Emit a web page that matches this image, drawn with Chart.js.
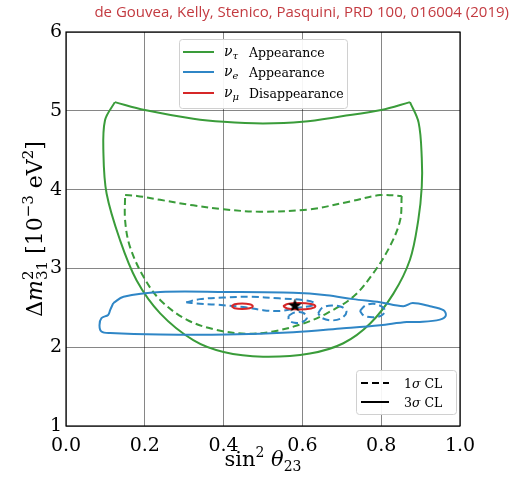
<!DOCTYPE html>
<html>
<head>
<meta charset="utf-8">
<script src="https://cdn.jsdelivr.net/npm/chart.js@4"></script>
<style>
  html,body{margin:0;padding:0;background:#fff;}
  #c{display:block;}
</style>
</head>
<body>
<canvas id="c" width="512" height="484"></canvas>
<script>
// ticks
const X_TICKS=[0,0.2,0.4,0.6,0.8,1.0];
const Y_TICKS=[1,2,3,4,5,6];

// nu_tau appearance, 3 sigma (top arc + lower U) and 1 sigma
const TAU3_TOP_X=[0.124,0.20,0.323,0.40,0.50,0.60,0.70,0.80,0.873];
const TAU3_TOP_Y=[5.11,5.01,4.90,4.86,4.84,4.86,4.93,5.01,5.11];
const TAU3_U_X=[0.873,0.895,0.903,0.903,0.894,0.873,0.831,0.772,0.704,0.619,0.50,0.40,0.323,0.239,0.179,0.137,0.103,0.095,0.099,0.124];
const TAU3_U_Y=[5.11,4.85,4.40,4.04,3.61,3.11,2.68,2.30,2.05,1.92,1.88,1.94,2.09,2.43,2.85,3.36,3.95,4.46,4.88,5.11];
const TAU1_TOP_X=[0.15,0.18,0.239,0.323,0.40,0.492,0.619,0.721,0.797,0.852];
const TAU1_TOP_Y=[3.93,3.92,3.87,3.80,3.75,3.72,3.75,3.85,3.93,3.92];
const TAU1_U_X=[0.852,0.848,0.822,0.780,0.729,0.662,0.602,0.526,0.459,0.382,0.306,0.239,0.196,0.162,0.15,0.15];
const TAU1_U_Y=[3.92,3.61,3.28,2.94,2.64,2.43,2.30,2.20,2.17,2.22,2.35,2.60,2.90,3.28,3.61,3.93];

// nu_e appearance, 3 sigma
const E3_X=[0.12,0.146,0.239,0.408,0.577,0.662,0.729,0.797,0.856,0.88,0.924,0.958,0.964,0.949,0.898,0.865,0.797,0.704,0.577,0.408,0.239,0.112,0.09,0.085,0.09,0.107,0.112,0.12];
const E3_Y=[2.56,2.64,2.70,2.70,2.69,2.66,2.61,2.57,2.52,2.56,2.52,2.47,2.40,2.35,2.32,2.32,2.28,2.24,2.19,2.16,2.16,2.18,2.20,2.28,2.37,2.41,2.47,2.56];
// nu_e appearance, 1 sigma islands
const E1A_X=[0.305,0.34,0.40,0.47,0.54,0.60,0.63,0.625,0.59,0.543,0.50,0.45,0.38,0.33,0.305];
const E1A_Y=[2.57,2.61,2.63,2.64,2.62,2.60,2.565,2.53,2.50,2.46,2.47,2.51,2.54,2.555,2.57];
const E1B_X=[0.64,0.65,0.675,0.70,0.712,0.70,0.675,0.65,0.64];
const E1B_Y=[2.43,2.50,2.53,2.51,2.45,2.37,2.34,2.37,2.43];
const E1C_X=[0.746,0.76,0.78,0.80,0.81,0.80,0.778,0.756,0.746];
const E1C_Y=[2.46,2.53,2.55,2.52,2.46,2.40,2.38,2.40,2.46];
const E1D_X=[0.565,0.58,0.60,0.612,0.60,0.58,0.566,0.565];
const E1D_Y=[2.40,2.44,2.44,2.38,2.32,2.31,2.34,2.40];

// nu_mu disappearance, 1 sigma
const MU1A_X=[0.42,0.428,0.447,0.466,0.474,0.466,0.447,0.428,0.42];
const MU1A_Y=[2.52,2.545,2.555,2.545,2.52,2.495,2.485,2.495,2.52];
const MU1B_X=[0.551,0.562,0.592,0.622,0.633,0.622,0.592,0.562,0.551];
const MU1B_Y=[2.52,2.548,2.56,2.548,2.52,2.492,2.48,2.492,2.52];

// best fit
const STAR_X=[0.581];
const STAR_Y=[2.53];

const GREEN='#3a9c3a', BLUE='#2f86c6', RED='#d62728';
const pts=(xs,ys)=>xs.map((x,i)=>({x,y:ys[i]}));

// lower order is drawn on top
function line(xs,ys,color,dashed,order){
  return {data:pts(xs,ys),showLine:true,borderColor:color,borderWidth:2,order,
    borderDash:dashed?[7,4]:[],pointRadius:0,tension:0.35,fill:false};
}

// filled star marker
const star=document.createElement('canvas'); star.width=15; star.height=15;
(function(){
  const g=star.getContext('2d'); g.beginPath();
  for(let i=0;i<10;i++){
    const r=i%2?2.9:7.2, a=-Math.PI/2+i*Math.PI/5;
    g.lineTo(7.5+r*Math.cos(a),7.8+r*Math.sin(a));
  }
  g.closePath(); g.fillStyle='#000'; g.fill();
})();

function rich(ctx,segs,x,y,align){
  let w=0;
  segs.forEach(s=>{
    ctx.font=s.f;
    s.w=s.stack?Math.max(ctx.measureText(s.stack[0]).width,ctx.measureText(s.stack[1]).width):ctx.measureText(s.t).width;
    w+=s.w;
  });
  let cx=align==='center'?x-w/2:x;
  ctx.textAlign='left'; ctx.textBaseline='alphabetic';
  segs.forEach(s=>{
    ctx.font=s.f;
    if(s.stack){ ctx.fillText(s.stack[0],cx,y-9); ctx.fillText(s.stack[1],cx,y+5); }
    else ctx.fillText(s.t,cx,y+(s.dy||0));
    cx+=s.w;
  });
}

const SERIF='"DejaVu Serif"';
const F=(sz,it)=>(it?'italic ':'')+sz+'px '+SERIF;

const overlay={
  id:'overlay',
  afterDraw(chart){
    const {ctx,chartArea:a}=chart;
    ctx.save();
    ctx.strokeStyle='#000'; ctx.lineWidth=1.2;
    ctx.strokeRect(a.left,a.top,a.right-a.left,a.bottom-a.top);

    // header
    ctx.fillStyle='#c33a40'; ctx.font='15px "Open Sans"'; ctx.textAlign='right'; ctx.textBaseline='alphabetic';
    ctx.fillText('de Gouvea, Kelly, Stenico, Pasquini, PRD 100, 016004 (2019)',509,17);

    // axis titles
    ctx.fillStyle='#000';
    rich(ctx,[{t:'sin',f:F(21)},{t:'2',f:F(14),dy:-9},{t:' ',f:F(21)},{t:'θ',f:F(21,true)},{t:'23',f:F(14),dy:5}],263,466,'center');
    ctx.save(); ctx.translate(42,229); ctx.rotate(-Math.PI/2);
    rich(ctx,[{t:'Δ',f:F(22)},{t:'m',f:F(22,true)},{stack:['2','31'],f:F(15)},{t:' [10',f:F(22)},{t:'−3',f:F(15),dy:-9},{t:' eV',f:F(22)},{t:'2',f:F(15),dy:-9},{t:']',f:F(22)}],0,0,'center');
    ctx.restore();

    // legend boxes
    const box=(x,y,w,h)=>{
      ctx.beginPath(); ctx.roundRect(x,y,w,h,3);
      ctx.fillStyle='rgba(255,255,255,0.92)'; ctx.fill();
      ctx.strokeStyle='#d0d0d0'; ctx.lineWidth=1; ctx.stroke();
    };
    box(179.5,39.5,168,69);
    [[GREEN,'τ','Appearance',52],[BLUE,'e','Appearance',72],[RED,'μ','Disappearance',93]].forEach(([c,sub,txt,yy])=>{
      ctx.strokeStyle=c; ctx.lineWidth=2; ctx.setLineDash([]);
      ctx.beginPath(); ctx.moveTo(183,yy); ctx.lineTo(214,yy); ctx.stroke();
      ctx.fillStyle='#000';
      rich(ctx,[{t:'ν',f:F(14,true)},{t:sub,f:F(10,true),dy:3}],224,yy+4,'left');
      rich(ctx,[{t:txt,f:F(12.5)}],249,yy+4.5,'left');
    });
    box(356.5,370.5,100,44);
    [[[7,4],383,'1'],[[],402,'3']].forEach(([d,yy,n])=>{
      ctx.strokeStyle='#000'; ctx.lineWidth=2; ctx.setLineDash(d);
      ctx.beginPath(); ctx.moveTo(361,yy); ctx.lineTo(389,yy); ctx.stroke();
      ctx.setLineDash([]); ctx.fillStyle='#000';
      rich(ctx,[{t:n,f:F(12.5)},{t:'σ',f:F(12.5,true)},{t:' CL',f:F(12.5)}],404,yy+4.5,'left');
    });
    ctx.restore();
  }
};

new Chart(document.getElementById('c'),{
  type:'scatter',
  data:{datasets:[
    line(TAU3_TOP_X,TAU3_TOP_Y,GREEN,false,4),
    line(TAU3_U_X,TAU3_U_Y,GREEN,false,4),
    line(TAU1_TOP_X,TAU1_TOP_Y,GREEN,true,4),
    line(TAU1_U_X,TAU1_U_Y,GREEN,true,4),
    line(E3_X,E3_Y,BLUE,false,3),
    line(E1A_X,E1A_Y,BLUE,true,3),
    line(E1B_X,E1B_Y,BLUE,true,3),
    line(E1C_X,E1C_Y,BLUE,true,3),
    line(E1D_X,E1D_Y,BLUE,true,3),
    line(MU1A_X,MU1A_Y,RED,false,2),
    line(MU1B_X,MU1B_Y,RED,false,2),
    {data:pts(STAR_X,STAR_Y),pointStyle:star,pointRadius:7,showLine:false,order:0}
  ]},
  options:{
    responsive:false,animation:false,devicePixelRatio:1,
    layout:{padding:{left:0,right:52,top:32,bottom:0}},
    plugins:{legend:{display:false},tooltip:{enabled:false}},
    scales:{
      x:{type:'linear',min:0,max:1,
        afterBuildTicks:s=>{s.ticks=X_TICKS.map(v=>({value:v}));},
        afterFit:s=>{s.height=58;},
        grid:{color:'rgba(0,0,0,0.6)',lineWidth:0.8,drawTicks:false},
        border:{display:false},
        ticks:{color:'#000',padding:9,font:{family:'DejaVu Serif',size:19},callback:v=>v.toFixed(1)}},
      y:{type:'linear',min:1,max:6,
        afterBuildTicks:s=>{s.ticks=Y_TICKS.map(v=>({value:v}));},
        afterFit:s=>{s.width=66;},
        grid:{color:'rgba(0,0,0,0.6)',lineWidth:0.8,drawTicks:false},
        border:{display:false},
        ticks:{color:'#000',padding:4,font:{family:'DejaVu Serif',size:19},callback:v=>String(v)}}
    }
  },
  plugins:[overlay]
});
</script>
</body>
</html>
